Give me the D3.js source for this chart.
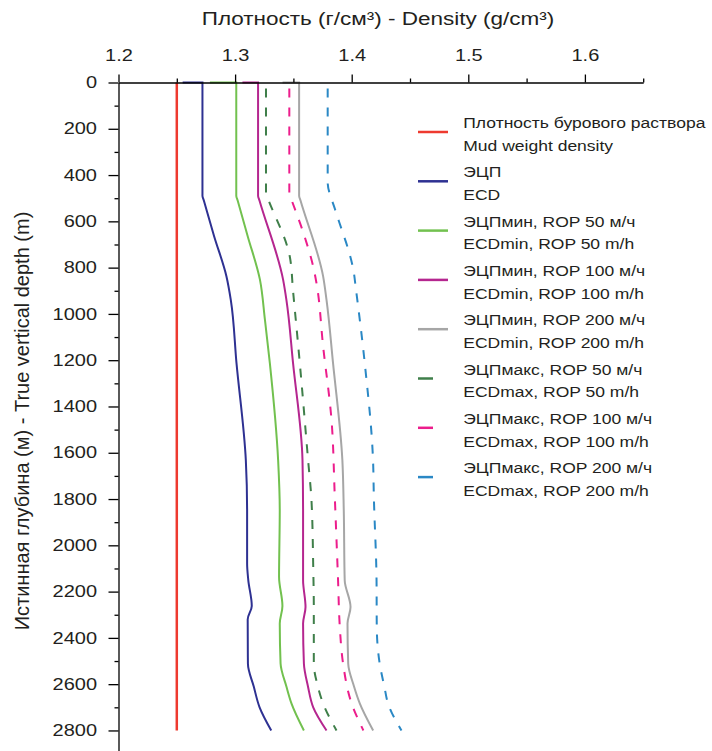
<!DOCTYPE html>
<html>
<head>
<meta charset="utf-8">
<script src="https://cdn.jsdelivr.net/npm/d3@7"></script>
<style>
    body { margin: 0; background: #fff; }
    text { font-family: "Liberation Sans", Arial, Helvetica, sans-serif; fill: #231f20; }
</style>
</head>
<body>
<script>
// Depths (m) and densities (g/cm3)
const mudDepth = [0, 2800];
const mudDensity = [1.25, 1.25];

const ecdDepth = [0, 0, 489, 510, 664, 838, 939, 1213, 1632, 1848, 2079, 2150, 2262, 2320, 2512, 2610, 2700, 2800];
const ecdDensity = [1.255, 1.272, 1.272, 1.2732, 1.282, 1.2926, 1.2963, 1.3012, 1.3092, 1.3103, 1.3103, 1.3113, 1.3143, 1.3108, 1.311, 1.316, 1.321, 1.331];

const min50Depth = [0, 0, 489, 510, 664, 852, 1026, 1213, 1632, 1848, 2137, 2262, 2338, 2511, 2610, 2684, 2800];
const min50Density = [1.2784, 1.301, 1.301, 1.3022, 1.3108, 1.3213, 1.3256, 1.3298, 1.3369, 1.3383, 1.3377, 1.3406, 1.3383, 1.339, 1.344, 1.3484, 1.359];

const min100Depth = [0, 0, 489, 510, 853, 939, 1213, 1632, 1848, 2150, 2267, 2338, 2511, 2610, 2700, 2800];
const min100Density = [1.3063, 1.3197, 1.3197, 1.3209, 1.3412, 1.344, 1.3497, 1.3578, 1.3583, 1.3583, 1.3604, 1.3583, 1.359, 1.3625, 1.367, 1.3784];

const min200Depth = [0, 0, 489, 510, 838, 939, 1213, 1632, 1848, 2151, 2267, 2338, 2511, 2610, 2684, 2800];
const min200Density = [1.3407, 1.3549, 1.3549, 1.3561, 1.3755, 1.3784, 1.384, 1.392, 1.3932, 1.394, 1.399, 1.3964, 1.397, 1.402, 1.407, 1.4184];

const max50Depth = [0, 480, 500, 752, 901, 1213, 1632, 1805, 2093, 2267, 2511, 2610, 2684, 2800];
const max50Density = [1.3265, 1.3265, 1.328, 1.3469, 1.3497, 1.3555, 1.3626, 1.3655, 1.367, 1.3675, 1.3675, 1.371, 1.3755, 1.387];

const max100Depth = [0, 480, 500, 649, 809, 867, 1141, 1459, 1791, 2151, 2353, 2511, 2684, 2800];
const max100Density = [1.3465, 1.3465, 1.3479, 1.3585, 1.3676, 1.3698, 1.3755, 1.3827, 1.3855, 1.3883, 1.3898, 1.3926, 1.4, 1.41];

const max200Depth = [0, 430, 548, 635, 722, 809, 896, 1213, 1632, 1791, 2151, 2353, 2511, 2610, 2684, 2800];
const max200Density = [1.3794, 1.3794, 1.3857, 1.3914, 1.3971, 1.4014, 1.4037, 1.4112, 1.4183, 1.419, 1.4213, 1.4215, 1.424, 1.428, 1.4312, 1.4427];

// Axis ticks
const densityTicks = [1.2, 1.3, 1.4, 1.5, 1.6];
const densityMinorTicks = [1.25, 1.35, 1.45, 1.55, 1.65];
const depthTicks = d3.range(0, 2801, 200);
const depthMinorTicks = d3.range(100, 2900, 200);

// Legend labels (Russian / English)
const labelsRu = ['Плотность бурового раствора', 'ЭЦП', 'ЭЦПмин, ROP 50 м/ч', 'ЭЦПмин, ROP 100 м/ч',
    'ЭЦПмин, ROP 200 м/ч', 'ЭЦПмакс, ROP 50 м/ч', 'ЭЦПмакс, ROP 100 м/ч', 'ЭЦПмакс, ROP 200 м/ч'];
const labelsEn = ['Mud weight density', 'ECD', 'ECDmin, ROP 50 m/h', 'ECDmin, ROP 100 m/h',
    'ECDmin, ROP 200 m/h', 'ECDmax, ROP 50 m/h', 'ECDmax, ROP 100 m/h', 'ECDmax, ROP 200 m/h'];

const colors = ['#ee3a2f', '#2e3192', '#72c14f', '#b5268f', '#a6a6a6', '#3f7f4a', '#ec1d8c', '#2a88c5'];
const dashed = [false, false, false, false, false, true, true, true];

const depths = [mudDepth, ecdDepth, min50Depth, min100Depth, min200Depth, max50Depth, max100Depth, max200Depth];
const densities = [mudDensity, ecdDensity, min50Density, min100Density, min200Density, max50Density, max100Density, max200Density];

const series = depths.map((dep, k) => ({
    color: colors[k],
    dashed: dashed[k],
    points: dep.map((d, j) => ({ depth: d, density: densities[k][j] }))
}));

const width = 712;
const height = 751;
const stretch = 1.25; // the original lettering is wide

const svg = d3.select('body').append('svg')
    .attr('width', width)
    .attr('height', height);

// Scales
const x = d3.scaleLinear().domain([1.2, 1.65]).range([118.5, 643.2]);
const y = d3.scaleLinear().domain([0, 2900]).range([82.5, 753.6]);

// Curves
const line = d3.line()
    .x((d) => x(d.density))
    .y((d) => y(d.depth))
    .curve(d3.curveMonotoneY);

svg.append('g')
    .selectAll('path')
    .data(series)
    .join('path')
    .attr('d', (d) => line(d.points))
    .attr('fill', 'none')
    .attr('stroke', (d) => d.color)
    .attr('stroke-width', (d, k) => k === 0 ? 2.5 : 2)
    .attr('stroke-dasharray', (d) => d.dashed ? '9,10' : null)
    .attr('stroke-dashoffset', (d) => d.dashed ? -6 : null);

// Axis styling
const styleAxis = (g) => {
    g.select('.domain').attr('stroke', '#000').attr('stroke-width', 1.3);
    g.selectAll('.tick line').attr('stroke', '#000').attr('stroke-width', 1.3);
    g.selectAll('.tick text').attr('font-size', 16).attr('fill', '#231f20').attr('class', 'wide');
};

// Top axis (density)
svg.append('g')
    .attr('transform', 'translate(0,' + y(0) + ')')
    .call(d3.axisTop(x).tickValues(densityMinorTicks).tickSize(4).tickSizeOuter(0).tickFormat(''))
    .call(styleAxis);

svg.append('g')
    .attr('transform', 'translate(0,' + y(0) + ')')
    .call(d3.axisTop(x).tickValues(densityTicks).tickSize(8).tickSizeOuter(0).tickPadding(13.5)
        .tickFormat(d3.format('.1f')))
    .call(styleAxis)
    .call((g) => g.select('.domain').remove());

// Left axis (depth)
svg.append('g')
    .attr('transform', 'translate(' + x(1.2) + ',0)')
    .call(d3.axisLeft(y).tickValues(depthMinorTicks).tickSize(4).tickSizeOuter(0).tickFormat(''))
    .call(styleAxis);

svg.append('g')
    .attr('transform', 'translate(' + x(1.2) + ',0)')
    .call(d3.axisLeft(y).tickValues(depthTicks).tickSize(10).tickSizeOuter(0).tickPadding(11.5)
        .tickFormat(d3.format('d')))
    .call(styleAxis)
    .call((g) => g.select('.domain').remove());

// Axis titles
svg.append('text')
    .attr('class', 'wide')
    .attr('x', 378)
    .attr('y', 25)
    .attr('text-anchor', 'middle')
    .attr('font-size', 18)
    .text('Плотность (г/см³) - Density (g/cm³)');

svg.append('text')
    .attr('transform', 'translate(29,421) rotate(-90)')
    .attr('text-anchor', 'middle')
    .attr('font-size', 20)
    .text('Истинная глубина (м) - True vertical depth (m)');

// Legend
const legend = svg.append('g')
    .selectAll('g')
    .data(series)
    .join('g')
    .attr('transform', (d, k) => 'translate(418,' + (128 + 49.3 * k) + ')');

legend.append('line')
    .attr('x1', 0)
    .attr('x2', (d) => d.dashed ? 15 : 30)
    .attr('y1', 4)
    .attr('y2', 4)
    .attr('stroke', (d) => d.color)
    .attr('stroke-width', 2.5);

legend.append('text')
    .attr('class', 'wide')
    .attr('x', 45.3)
    .attr('font-size', 14)
    .text((d, k) => labelsRu[k]);

legend.append('text')
    .attr('class', 'wide')
    .attr('x', 45.3)
    .attr('y', 22.8)
    .attr('font-size', 14)
    .text((d, k) => labelsEn[k]);

// Widen horizontal lettering like the source picture
svg.selectAll('text.wide').each(function () {
    const len = this.getComputedTextLength();
    d3.select(this)
        .attr('textLength', len * stretch)
        .attr('lengthAdjust', 'spacingAndGlyphs');
});
</script>
</body>
</html>
